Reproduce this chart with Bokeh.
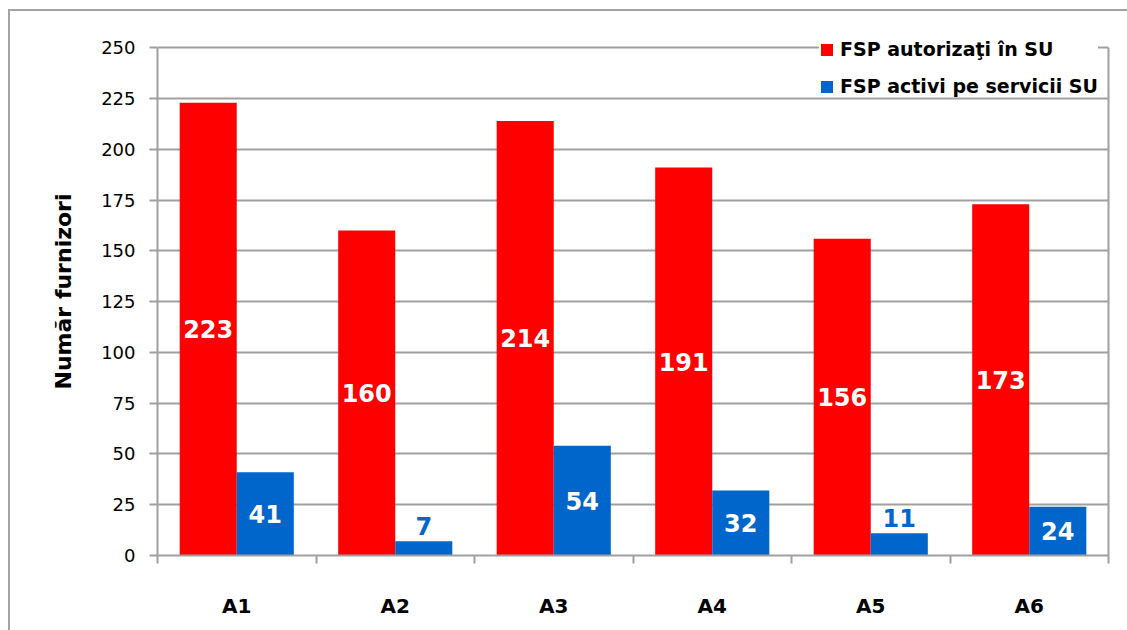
from bokeh.plotting import figure
from bokeh.models import (ColumnDataSource, FixedTicker, Legend, LegendItem, Range1d,
                          LinearAxis, InlineStyleSheet)
from bokeh.core.properties import value
from bokeh.embed import file_html
from bokeh.resources import INLINE

categories = ["A1", "A2", "A3", "A4", "A5", "A6"]
autorizati = [223, 160, 214, 191, 156, 173]
activi = [41, 7, 54, 32, 11, 24]
series_names = ["FSP autorizaţi în SU", "FSP activi pe servicii SU"]
y_ticks = [0, 25, 50, 75, 100, 125, 150, 175, 200, 225, 250]

RED = "#FF0000"
BLUE = "#0066CC"
GRID = "#A0A0A0"
FONT = "DejaVu Sans"

n = len(categories)
centers = [i + 0.5 for i in range(n)]
bw = 0.36
y_max = y_ticks[-1]

p = figure(width=1127, height=630, output_backend="svg", toolbar_location=None,
           x_range=Range1d(0, n), y_range=Range1d(0, 260),
           min_border_left=157, min_border_right=19, min_border_top=27, min_border_bottom=75)

# outer chart border (only its top and left edges fall inside the window)
p.stylesheets = [InlineStyleSheet(css="""
:host { position: relative; overflow: hidden; }
:host::after {
  content: ""; position: absolute; left: 8px; top: 9px; width: 3000px; height: 3000px;
  border-left: 2px solid #A3A3A3; border-top: 2px solid #A3A3A3;
  border-right: none; border-bottom: none;
  pointer-events: none; z-index: 10;
}
""")]

src_r = ColumnDataSource(dict(x=[c - bw / 2 for c in centers], top=autorizati))
src_b = ColumnDataSource(dict(x=[c + bw / 2 for c in centers], top=activi))
r1 = p.vbar(x="x", top="top", width=bw, source=src_r, fill_color=RED, line_color=None)
r2 = p.vbar(x="x", top="top", width=bw, source=src_b, fill_color=BLUE, line_color=None)

def label_data(xs, vals, inside_color, outside_color):
    ly, lyo, lc = [], [], []
    for v in vals:
        if v > 15:
            ly.append(v / 2); lyo.append(0); lc.append(inside_color)
        else:
            ly.append(v); lyo.append(-15); lc.append(outside_color)
    return dict(x=xs, y=ly, yo=lyo, c=lc, t=[str(v) for v in vals])

lr = ColumnDataSource(label_data(src_r.data["x"], autorizati, "white", RED))
lb = ColumnDataSource(label_data(src_b.data["x"], activi, "white", BLUE))
for s in (lr, lb):
    p.text(x="x", y="y", text="t", y_offset="yo", text_color="c", source=s,
           text_align="center", text_baseline="middle",
           text_font=value(FONT), text_font_size="24px", text_font_style="bold")

p.outline_line_color = None
p.xgrid.grid_line_color = None
p.ygrid.ticker = FixedTicker(ticks=y_ticks)
p.ygrid.grid_line_color = GRID
p.ygrid.grid_line_width = 2
p.background_fill_color = "white"
p.border_fill_color = "white"

# y axis
ya = p.yaxis[0]
ya.ticker = FixedTicker(ticks=y_ticks)
ya.bounds = (0, y_max)
ya.axis_line_color = GRID
ya.axis_line_width = 2
ya.major_tick_line_color = GRID
ya.major_tick_line_width = 2
ya.major_tick_out = 8
ya.major_tick_in = 0
ya.minor_tick_line_color = None
ya.major_label_text_font = FONT
ya.major_label_text_font_size = "18px"
ya.major_label_text_color = "black"
ya.major_label_standoff = 14
ya.axis_label = "Număr furnizori"
ya.axis_label_text_font = FONT
ya.axis_label_text_font_size = "22px"
ya.axis_label_text_font_style = "bold"
ya.axis_label_text_color = "black"
ya.axis_label_standoff = 22

# right frame line
ra = LinearAxis(bounds=(0, y_max), ticker=FixedTicker(ticks=[]),
                axis_line_color=GRID, axis_line_width=2,
                major_tick_line_color=None, minor_tick_line_color=None,
                major_label_text_font_size="0px")
p.add_layout(ra, "right")

# x axis
xa = p.xaxis[0]
xa.ticker = FixedTicker(ticks=centers, minor_ticks=list(range(n + 1)))
xa.major_label_overrides = {c: cat for c, cat in zip(centers, categories)}
xa.axis_line_color = GRID
xa.axis_line_width = 2
xa.major_tick_line_color = None
xa.major_tick_out = 0
xa.major_tick_in = 0
xa.minor_tick_line_color = GRID
xa.minor_tick_line_width = 2
xa.minor_tick_out = 8
xa.minor_tick_in = 0
xa.major_label_text_font = FONT
xa.major_label_text_font_size = "20px"
xa.major_label_text_font_style = "bold"
xa.major_label_text_color = "black"
xa.major_label_standoff = 30

legend = Legend(items=[LegendItem(label=series_names[0], renderers=[r1]),
                       LegendItem(label=series_names[1], renderers=[r2])],
                location=(662, 458), orientation="vertical",
                background_fill_color="white", background_fill_alpha=1.0,
                border_line_color=None, padding=8, spacing=15, margin=0,
                glyph_width=15, glyph_height=15, label_height=22, label_standoff=6,
                label_text_font=FONT, label_text_font_size="19px",
                label_text_font_style="bold", label_text_color="black")
p.add_layout(legend)

open("out.html", "w").write(file_html(p, INLINE))
